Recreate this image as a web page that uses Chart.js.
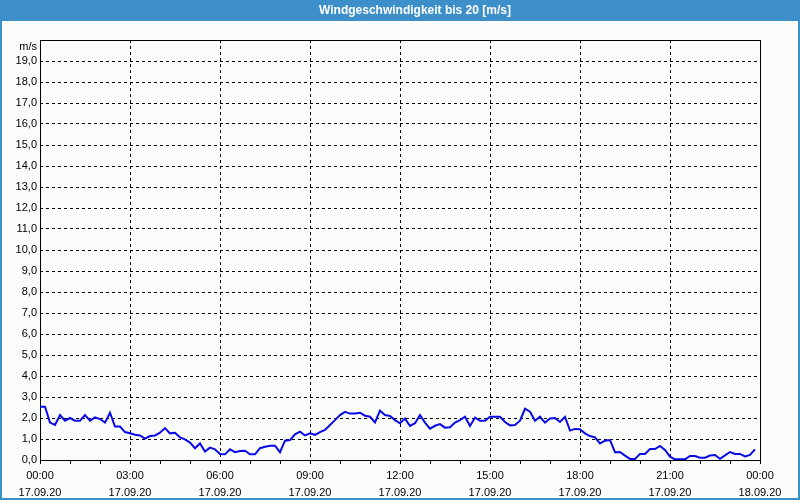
<!DOCTYPE html>
<html>
<head>
<meta charset="utf-8">
<script src="https://cdn.jsdelivr.net/npm/chart.js@4.4.0/dist/chart.umd.min.js"></script>
<style>
  html, body { margin: 0; padding: 0; background: #fafcfa; }
  #wrap { width: 800px; height: 500px; position: relative; }
</style>
</head>
<body>
<div id="wrap"><canvas id="c" width="800" height="500"></canvas></div>
<script>
// ---- data ----
const chartTitle = 'Windgeschwindigkeit bis 20 [m/s]';
const unitLabel = 'm/s';
const xTickTimes = ['00:00', '03:00', '06:00', '09:00', '12:00', '15:00', '18:00', '21:00', '00:00'];
const xTickDates = ['17.09.20', '17.09.20', '17.09.20', '17.09.20', '17.09.20', '17.09.20', '17.09.20', '17.09.20', '18.09.20'];
const sampleMinutes = 10; // one reading every 10 minutes, starting 17.09.20 00:00

// wind speed m/s, 00:00 - 11:50
const speedAM = [
  2.54, 2.54, 1.78, 1.67, 2.14, 1.87, 2.00, 1.87, 1.87, 2.14,
  1.87, 2.03, 1.95, 1.78, 2.25, 1.59, 1.59, 1.33, 1.27, 1.20,
  1.17, 1.02, 1.14, 1.17, 1.30, 1.52, 1.27, 1.30, 1.08, 0.98,
  0.83, 0.56, 0.79, 0.40, 0.59, 0.51, 0.29, 0.27, 0.51, 0.37,
  0.43, 0.44, 0.27, 0.27, 0.56, 0.63, 0.68, 0.68, 0.37, 0.92,
  0.95, 1.22, 1.35, 1.17, 1.27, 1.20, 1.33, 1.43, 1.67, 1.90,
  2.14, 2.29, 2.21, 2.21, 2.25, 2.11, 2.06, 1.79, 2.35, 2.14,
  2.10, 1.90
];
// wind speed m/s, 12:00 - 23:50
const speedPM = [
  1.75, 1.97, 1.62, 1.75, 2.14, 1.78, 1.49, 1.63, 1.71, 1.54,
  1.56, 1.78, 1.90, 2.06, 1.62, 2.02, 1.87, 1.87, 2.06, 2.06,
  2.06, 1.81, 1.65, 1.67, 1.87, 2.44, 2.30, 1.87, 2.06, 1.78,
  1.98, 2.00, 1.81, 2.06, 1.40, 1.48, 1.46, 1.27, 1.14, 1.08,
  0.79, 0.92, 0.95, 0.37, 0.38, 0.21, 0.05, 0.05, 0.29, 0.29,
  0.52, 0.52, 0.67, 0.48, 0.16, 0.03, 0.03, 0.03, 0.19, 0.19,
  0.11, 0.11, 0.21, 0.24, 0.06, 0.22, 0.38, 0.29, 0.29, 0.17,
  0.24, 0.51
];

// ---- build ----
const speeds = speedAM.concat(speedPM);
const points = speeds.map((v, i) => ({ x: i * sampleMinutes / 60, y: v }));

const FONT = "'Liberation Sans', Arial, sans-serif";
const BG = '#fafcfa';
const BAR = '#3c8fc8';

const framePlugin = {
  id: 'frame',
  beforeDraw(chart) {
    const ctx = chart.ctx;
    ctx.save();
    ctx.fillStyle = BG;
    ctx.fillRect(0, 0, chart.width, chart.height);
    ctx.fillStyle = BAR;
    ctx.fillRect(0, 0, chart.width, 21);
    ctx.fillRect(0, 0, 2, chart.height);
    ctx.fillRect(chart.width - 2, 0, 2, chart.height);
    ctx.fillRect(0, chart.height - 2, chart.width, 2);
    // title text in the bar
    ctx.fillStyle = '#ffffff';
    ctx.font = 'bold 12px ' + FONT;
    ctx.textAlign = 'center';
    ctx.textBaseline = 'middle';
    ctx.fillText(chartTitle, 415, 11);
    ctx.restore();
  },
  beforeDatasetsDraw(chart) {
    const ctx = chart.ctx;
    const a = chart.chartArea;
    ctx.save();
    ctx.strokeStyle = '#000';
    ctx.lineWidth = 1;
    ctx.setLineDash([]);
    ctx.strokeRect(Math.round(a.left) + 0.5, Math.round(a.top) + 0.5,
                   Math.round(a.right - a.left), Math.round(a.bottom - a.top));
    ctx.fillStyle = '#000';
    ctx.font = '11px ' + FONT;
    ctx.textAlign = 'right';
    ctx.textBaseline = 'middle';
    ctx.fillText(unitLabel, a.left - 3, a.top + 7);
    ctx.restore();
  }
};

new Chart(document.getElementById('c'), {
  type: 'line',
  data: {
    datasets: [{
      data: points,
      borderColor: '#0a0ae6',
      borderWidth: 2,
      pointRadius: 0,
      tension: 0,
      fill: false
    }]
  },
  options: {
    responsive: false,
    animation: false,
    events: [],
    layout: { padding: { left: 0, right: 40, top: 40, bottom: 0 } },
    plugins: {
      legend: { display: false },
      tooltip: { enabled: false },
      title: { display: false }
    },
    scales: {
      x: {
        type: 'linear',
        min: 0,
        max: 24,
        afterFit(s) { s.height = 40; },
        border: { display: false, dash: [3, 3] },
        grid: {
          color: c => (c.tick && c.tick.value % 3 === 0 && c.tick.value > 0 && c.tick.value < 24) ? '#000' : 'rgba(0,0,0,0)',
          tickColor: '#000',
          tickLength: 4,
          lineWidth: 1,
          drawTicks: true
        },
        ticks: {
          stepSize: 1,
          autoSkip: false,
          maxRotation: 0,
          minRotation: 0,
          padding: 4,
          color: '#000',
          font: { family: FONT, size: 11, lineHeight: 1.5 },
          callback: v => (v % 3 === 0) ? [xTickTimes[v / 3], xTickDates[v / 3]] : ''
        }
      },
      y: {
        min: 0,
        max: 20,
        afterFit(s) { s.width = 40; },
        border: { display: false, dash: [3, 3] },
        grid: {
          color: c => (c.tick && c.tick.value > 0 && c.tick.value < 20) ? '#000' : 'rgba(0,0,0,0)',
          lineWidth: 1,
          drawTicks: false
        },
        ticks: {
          stepSize: 1,
          padding: 3,
          color: '#000',
          font: { family: FONT, size: 11 },
          callback: v => v === 20 ? '' : v.toFixed(1).replace('.', ',')
        }
      }
    }
  },
  plugins: [framePlugin]
});
</script>
</body>
</html>
